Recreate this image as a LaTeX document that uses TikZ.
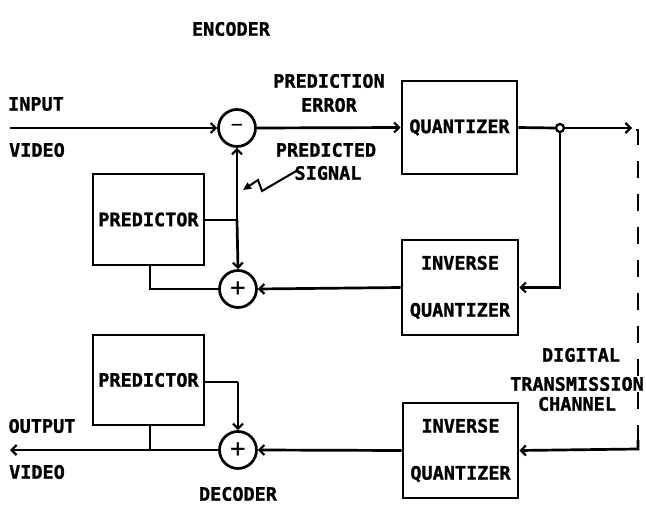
\documentclass[tikz,border=0pt]{standalone}
\usepackage{fontspec}
\setmonofont{DejaVu Sans Mono}[BoldFeatures={FakeBold=1.2}]
\usetikzlibrary{arrows.meta}
\begin{document}
\begin{tikzpicture}[x=1pt,y=-1pt,
  lbl/.style={font=\ttfamily\bfseries\fontsize{18.5}{24}\selectfont, inner sep=0pt},
  blk/.style={draw, line width=2.7pt, minimum width=#1, inner sep=0pt, font=\ttfamily\bfseries\fontsize{18.5}{47}\selectfont, align=center},
  sumc/.style={draw, circle, line width=2.7pt, minimum size=37pt, inner sep=0pt, font=\ttfamily\fontsize{26}{26}\selectfont},
  wire/.style={line width=2.7pt},
  arr/.style={wire, -{Straight Barb[length=5pt,width=10pt,line width=2.2pt]}},
  chan/.style={line width=2.7pt, dash pattern=on 17pt off 16pt}
]
\useasboundingbox (0,0) rectangle (646,516);

% blocks
\node[blk=115pt, minimum height=93pt] (quant) at (459.5,127.5) {QUANTIZER};
\node[blk=116pt, minimum height=95pt] (invq1) at (460,287.5) {INVERSE\\QUANTIZER};
\node[blk=111pt, minimum height=91pt] (pred1) at (148.5,219.5) {PREDICTOR};
\node[blk=111pt, minimum height=90pt] (pred2) at (148.5,380) {PREDICTOR};
\node[blk=115pt, minimum height=95pt] (invq2) at (460.5,450.5) {INVERSE\\QUANTIZER};

% summing junctions
\node[sumc] (minus) at (237,128) {\raisebox{1pt}{\fontsize{20}{20}\selectfont −}};
\node[sumc] (plus1) at (238,289) {+};
\node[sumc] (plus2) at (238,450) {+};
\node[draw, circle, line width=2.3pt, fill=white, minimum size=8pt, inner sep=0pt] (tap) at (560,128) {};

% labels
\node[lbl] (enc) at (231,29) {ENCODER};
\node[lbl] (inp) at (36,104) {INPUT};
\node[lbl] (vidin) at (37,150) {VIDEO};
\node[lbl, align=center] (perr) at (329,93) {PREDICTION\\ERROR};
\node[lbl] (psig1) at (326,150) {PREDICTED};
\node[lbl] (psig2) at (328,173) {SIGNAL};
\node[lbl] (outp) at (42,426) {OUTPUT};
\node[lbl] (vidout) at (37,472) {VIDEO};
\node[lbl] (dec) at (238,494) {DECODER};
\node[lbl] (dig) at (581,355) {DIGITAL};
\node[lbl] (trans) at (577,384) {TRANSMISSION};
\node[lbl] (chn) at (577,404) {CHANNEL};

% coordinates
\coordinate (in0) at (10,128);
\coordinate (out0) at (10,450);
\coordinate (chtop) at (632,128);
\coordinate (j1) at (237,220);
\coordinate (j2) at (238,382);
\coordinate (p1b) at (150,289);
\coordinate (p2b) at (150,450);
\coordinate (ls) at (298,170);
\coordinate (lk1) at (262,191);
\coordinate (lk2) at (258,180);
\coordinate (lt) at (243,190);

% encoder wires
\draw[arr] (in0) -- (minus.west);
\draw[arr] (minus.east) -- (quant.west);
\draw[wire] (quant.east) -- (tap.west);
\draw[arr] (tap.east) -- (chtop);
\draw[arr] (tap.south) |- (invq1.east);
\draw[arr] (invq1.west) -- (plus1.east);
\draw[wire] (pred1.east |- j1) -- (j1);
\draw[arr] (j1) -- (minus.south);
\draw[arr] (j1) -- (plus1.north);
\draw[wire] (pred1.south -| p1b) -- (p1b) -- (plus1.west);

% predicted-signal pointer
\draw[line width=2pt, -{Triangle[length=8pt,width=7pt]}] (ls) -- (lk1) -- (lk2) -- (lt);

% channel
\draw[chan] (636,130) -- (638,130) -- (638,447);
\draw[arr] (638,440) -- (638,449) -- (invq2.east);

% decoder wires
\draw[arr] (invq2.west) -- (plus2.east);
\draw[wire] (pred2.east |- j2) -- (j2);
\draw[arr] (j2) -- (plus2.north);
\draw[arr] (plus2.west) -- (out0);
\draw[wire] (pred2.south -| p2b) -- (p2b);
\end{tikzpicture}
\end{document}
